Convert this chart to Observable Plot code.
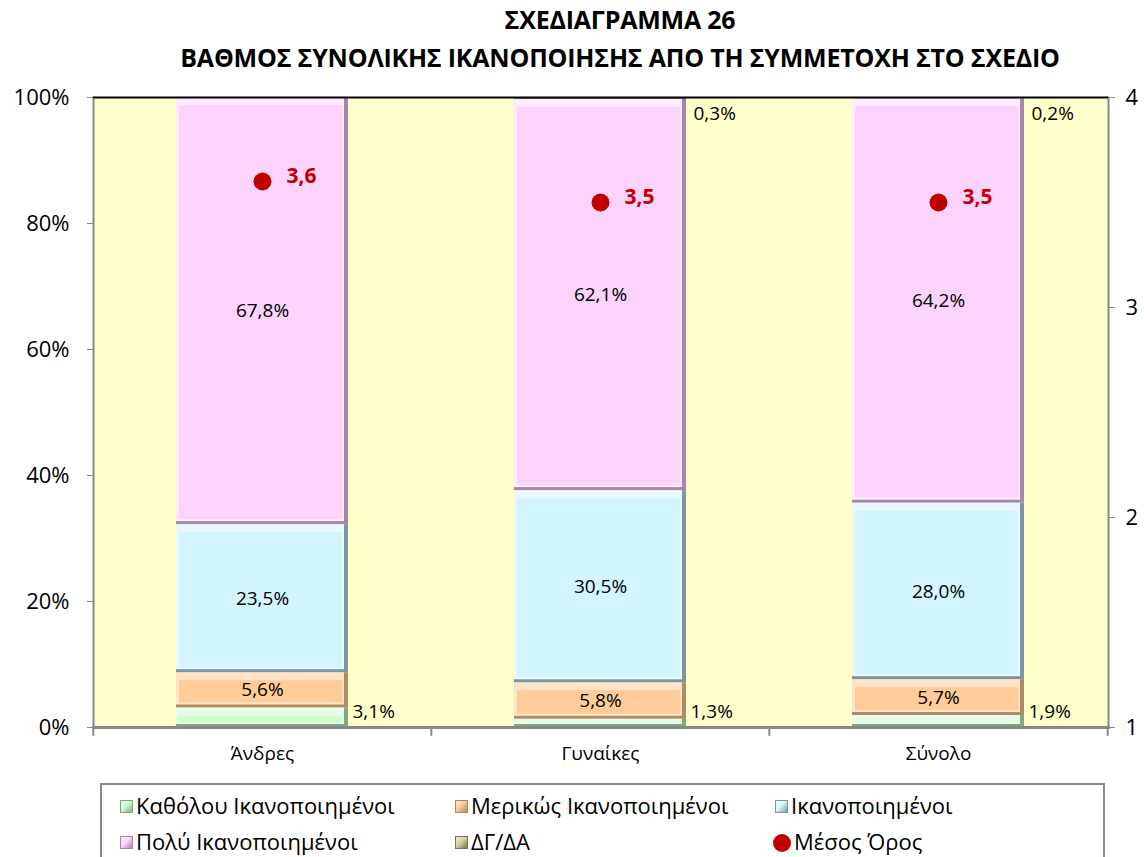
<!DOCTYPE html>
<html><head><meta charset="utf-8">
<script src="https://cdn.jsdelivr.net/npm/d3@7"></script>
<script src="https://cdn.jsdelivr.net/npm/@observablehq/plot@0.6"></script>
<style>
body{margin:0;background:#fff;font-family:"Open Sans",sans-serif;}
#wrap{position:relative;width:1144px;height:857px;overflow:hidden;background:#fff}
#title{position:absolute;top:0px;left:0;width:1144px;padding-left:96px;box-sizing:border-box;text-align:center;font-weight:bold;font-size:25px;line-height:38px;color:#000;letter-spacing:-0.2px}
#chart{position:absolute;top:80px;left:0}
#legend{position:absolute;top:783px;left:100px;width:1005px;height:74px;border:2px solid #888;border-bottom:none;box-sizing:border-box}
.li{position:absolute;font-size:22px;line-height:24px;white-space:nowrap;color:#000}
.sw{display:inline-block;width:13px;height:13px;margin-right:3px;vertical-align:1px;box-sizing:border-box}
.dot{display:inline-block;width:18px;height:18px;border-radius:50%;background:#C00000;margin-right:3px;vertical-align:-2px}
</style></head>
<body>
<div id="wrap">
  <div id="title">ΣΧΕΔΙΑΓΡΑΜΜΑ 26<br>ΒΑΘΜΟΣ ΣΥΝΟΛΙΚΗΣ ΙΚΑΝΟΠΟΙΗΣΗΣ ΑΠΟ ΤΗ ΣΥΜΜΕΤΟΧΗ ΣΤΟ ΣΧΕΔΙΟ</div>
  <div id="chart"></div>
  <div id="legend"></div>
</div>
<script>
const categories = ["Άνδρες", "Γυναίκες", "Σύνολο"];
const seriesNames = ["Καθόλου Ικανοποιημένοι", "Μερικώς Ικανοποιημένοι", "Ικανοποιημένοι", "Πολύ Ικανοποιημένοι", "ΔΓ/ΔΑ"];
const katholou = [3.1, 1.3, 1.9];
const merikos = [5.6, 5.8, 5.7];
const ikanopoiimenoi = [23.5, 30.5, 28.0];
const poly = [67.8, 62.1, 64.2];
const dgda = [0.0, 0.3, 0.2];
const meanName = "Μέσος Όρος";
const meanScore = [3.6, 3.5, 3.5];
const leftTicks = [0, 20, 40, 60, 80, 100];
const rightTicks = [1, 2, 3, 4];

const seriesValues = [katholou, merikos, ikanopoiimenoi, poly, dgda];
const baseC  = ["#CCFFCC", "#FFCC99", "#D2F5FF", "#FCD3FC", "#D8D2A8"];
const lightC = ["#EAFBEA", "#FFE4C8", "#EAF9FF", "#FFEBFF", "#EEEAD4"];
const darkC  = ["#7FA87F", "#B08A62", "#7A98A4", "#A886A8", "#7A7450"];

// build stacked rows
const rows = [];
categories.forEach((c, i) => {
  let acc = 0;
  seriesValues.forEach((vals, s) => {
    const v = vals[i];
    rows.push({cat: c, s, v, y1: acc, y2: acc + v, mid: acc + v / 2});
    acc += v;
  });
});
const segs = rows.filter(d => d.v > 0);
const fmt = v => v.toFixed(1).replace(".", ",") + "%";
const toPct = m => (m - 1) / 3 * 100;
const means = categories.map((c, i) => ({cat: c, m: meanScore[i], y: toPct(meanScore[i])}));

const W = 1144, ml = 93, mr = 36;
const step = (W - ml - mr) / categories.length;
const inner = segs.filter(d => d.s >= 1 && d.s <= 3);
const firstSeg = rows.filter(d => d.s === 0 && d.v > 0);
const lastSeg = rows.filter(d => d.s === 4 && d.v > 0);

const chart = Plot.plot({
  width: W,
  height: 695,
  marginTop: 17,
  marginBottom: 48,
  marginLeft: ml,
  marginRight: mr,
  style: {fontFamily: "Open Sans", fontSize: "19px", background: "transparent", color: "#000"},
  x: {domain: categories, paddingInner: 0.49, paddingOuter: 0.245, label: null},
  y: {domain: [0, 100], label: null},
  color: {type: "identity"},
  marks: [
    Plot.frame({fill: "#FFFFCC", stroke: "none"}),
    // bevel layers
    Plot.barY(segs, {x: "cat", y1: "y1", y2: "y2", fill: d => darkC[d.s]}),
    Plot.barY(segs, {x: "cat", y1: "y1", y2: "y2", fill: d => lightC[d.s], insetRight: 4, insetBottom: 3}),
    Plot.barY(segs, {x: "cat", y1: "y1", y2: "y2", fill: d => baseC[d.s], insetLeft: 3, insetRight: 6, insetTop: 8, insetBottom: 5}),
    // axes lines
    Plot.frame({anchor: "left", stroke: "#888", strokeWidth: 2}),
    Plot.frame({anchor: "right", stroke: "#888", strokeWidth: 2}),
    Plot.frame({anchor: "bottom", stroke: "#888", strokeWidth: 3}),
    Plot.ruleY([100], {stroke: "#000", strokeWidth: 2}),
    Plot.axisY({ticks: leftTicks, tickFormat: d => d + "%", tickSize: 6, tickPadding: 18, fontSize: 22, stroke: "#888", fill: "#000"}),
    Plot.axisY({anchor: "right", ticks: rightTicks.map(toPct), tickFormat: d => String(Math.round(1 + d * 3 / 100)), tickSize: 6, tickPadding: 11, fontSize: 22, stroke: "#888", fill: "#000"}),
    Plot.axisX({tickSize: 0, tickPadding: 19, fontSize: 19, fill: "#000"}),
    Plot.ruleX(categories, {x: d => d, dx: -step / 2, y1: 0, y2: -1.4, stroke: "#888", strokeWidth: 2}),
    Plot.ruleX(categories.slice(-1), {x: d => d, dx: step / 2, y1: 0, y2: -1.4, stroke: "#888", strokeWidth: 2}),
    // labels
    Plot.text(inner, {x: "cat", y: "mid", text: d => fmt(d.v), fontSize: 19, fill: "#000"}),
    Plot.text(firstSeg, {x: "cat", y: () => 2.4, text: d => fmt(d.v), fontSize: 19, fill: "#000", textAnchor: "start", dx: 90}),
    Plot.text(lastSeg, {x: "cat", y: () => 97.4, text: d => fmt(d.v), fontSize: 19, fill: "#000", textAnchor: "start", dx: 93}),
    // mean
    Plot.dot(means, {x: "cat", y: "y", r: 9, fill: "#C00000", stroke: "none"}),
    Plot.text(means, {x: "cat", y: "y", text: d => d.m.toFixed(1).replace(".", ","), fill: "#C00000", fontWeight: "bold", fontSize: 21, textAnchor: "start", dx: 24, dy: -5})
  ]
});
document.getElementById("chart").appendChild(chart);

// legend
const legend = document.getElementById("legend");
const pos = [[18, 8], [353, 8], [673, 8], [18, 44], [353, 44]];
seriesNames.forEach((n, s) => {
  const el = document.createElement("div");
  el.className = "li";
  el.style.left = pos[s][0] + "px";
  el.style.top = pos[s][1] + "px";
  const sw = document.createElement("span");
  sw.className = "sw";
  sw.style.background = `linear-gradient(135deg, ${lightC[s]} 0%, ${baseC[s]} 45%, ${darkC[s]} 100%)`;
  sw.style.border = `1px solid ${darkC[s]}`;
  el.appendChild(sw);
  el.appendChild(document.createTextNode(n));
  legend.appendChild(el);
});
const mEl = document.createElement("div");
mEl.className = "li";
mEl.style.left = "671px";
mEl.style.top = "44px";
mEl.innerHTML = '<span class="dot"></span>';
mEl.appendChild(document.createTextNode(meanName));
legend.appendChild(mEl);
</script>
</body></html>
